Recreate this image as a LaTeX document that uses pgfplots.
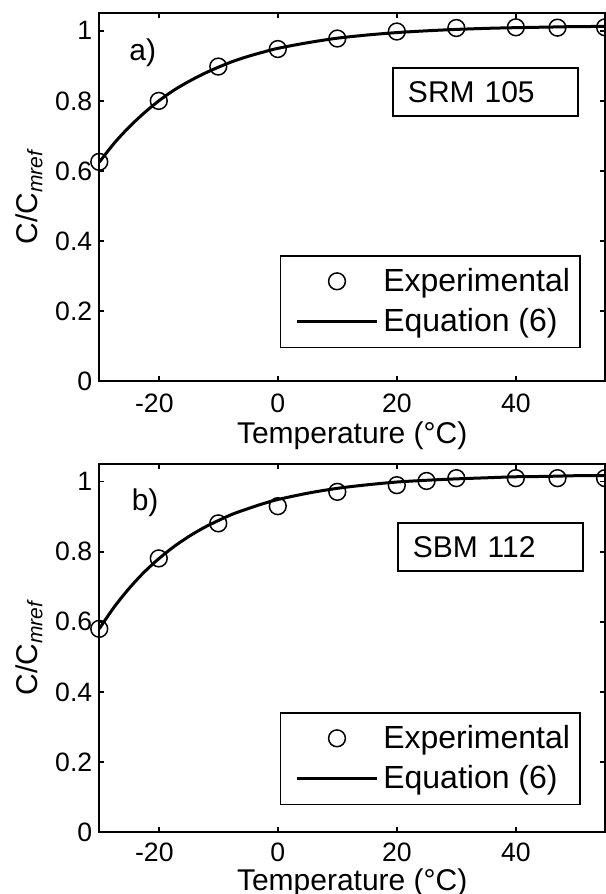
\documentclass[border=0pt]{standalone}
\usepackage{fontspec}
\setmainfont{Liberation Sans}
\usepackage{pgfplots}
\pgfplotsset{compat=1.18}

\pgfplotsset{
  panel/.style={
    scale only axis,
    width=253pt, height=184pt,
    xmin=-30, xmax=55, ymin=0, ymax=1.05,
    xtick={-20,0,20,40},
    xticklabels={\llap{-}20,0,20,40},
    ytick={0,0.2,0.4,0.6,0.8,1},
    /pgf/number format/assume math mode=true,
    tick align=inside,
    major tick length=2.6pt,
    axis line style={line width=0.8pt},
    every tick/.style={black,line width=0.8pt},
    font=\fontsize{15}{18}\selectfont,
    ticklabel style={font=\fontsize{13.3}{15}\selectfont},
    xticklabel style={inner ysep=0pt,yshift=-6.4pt},
    ylabel={C/C\textsubscript{\itshape mref}},
    ylabel style={at={(axis description cs:-0.139,0.5)},anchor=center},
    xlabel={Temperature (°C)},
    clip=false,
    legend cell align=left,
    legend image code/.code={\path (-0.18cm,0cm); \draw[mark repeat=2,mark phase=2,##1] plot coordinates {(0cm,0cm) (0.7cm,0cm) (1.4cm,0cm)};},
    legend style={draw=black,line width=0.8pt,inner xsep=2.5pt,inner ysep=3.2pt,
      nodes={inner xsep=2.5pt,inner ysep=3pt},row sep=1.2pt,
      font=\fontsize{16}{18}\selectfont, anchor=south east},
  },
  expt/.style={only marks,mark=o,mark size=4.2pt,mark options={line width=0.75pt,fill=none},black},
  eqn/.style={no marks,line width=1.5pt,black,smooth},
}

\begin{document}
\begin{tikzpicture}
% panel a
\begin{axis}[panel, at={(0,0)}, anchor=south west,
  xlabel style={at={(axis description cs:0.5,-0.147)},anchor=center,inner sep=0pt},
  legend style={at={(axis description cs:0.952,0.0897)}}]
\addplot[expt] coordinates {(-30,0.626) (-20,0.800) (-10,0.898) (0,0.948) (10,0.978) (20,0.998) (30,1.008) (40,1.010) (47,1.009) (55,1.010)};
\addlegendentry{Experimental}
\addplot[eqn] coordinates {(-30,0.625) (-27.5,0.679) (-25,0.725) (-22.5,0.765) (-20,0.800) (-17.5,0.830) (-15,0.855) (-12.5,0.877) (-10,0.896) (-7.5,0.913) (-5,0.927) (-2.5,0.939) (0,0.950) (5,0.966) (10,0.979) (15,0.988) (20,0.995) (25,1.000) (30,1.004) (35,1.007) (40,1.009) (45,1.0105) (50,1.012) (55,1.0125)};
\addlegendentry{Equation (6)}
\node[draw,line width=0.8pt,minimum width=92.5pt,minimum height=24pt,text width=77.5pt,inner xsep=7.5pt,align=left] at (axis cs:34.9,0.826) {SRM 105};
\node at (axis cs:-22.7,0.937) {a)};
\end{axis}
% panel b
\begin{axis}[panel, at={(0,-225.5pt)}, anchor=south west,
  xticklabel style={yshift=1pt},
  xlabel style={at={(axis description cs:0.5,-0.138)},anchor=center,inner sep=0pt},
  legend style={at={(axis description cs:0.952,0.073)}}]
\addplot[expt] coordinates {(-30,0.580) (-20,0.781) (-10,0.881) (0,0.930) (10,0.971) (20,0.990) (25,1.002) (30,1.010) (40,1.010) (47,1.010) (55,1.010)};
\addlegendentry{Experimental}
\addplot[eqn] coordinates {(-30,0.580) (-27.5,0.642) (-25,0.695) (-22.5,0.741) (-20,0.780) (-17.5,0.814) (-15,0.843) (-12.5,0.868) (-10,0.889) (-7.5,0.908) (-5,0.923) (-2.5,0.937) (0,0.949) (5,0.967) (10,0.981) (15,0.991) (20,0.999) (25,1.004) (30,1.008) (35,1.011) (40,1.014) (45,1.015) (50,1.017) (55,1.0175)};
\addlegendentry{Equation (6)}
\node[draw,line width=0.8pt,minimum width=92.5pt,minimum height=24pt,text width=77.5pt,inner xsep=7.5pt,align=left] at (axis cs:35.7,0.813) {SBM 112};
\node at (axis cs:-22.3,0.94) {b)};
\end{axis}
\pgfresetboundingbox
\path[use as bounding box] (-49.65pt,-256.5pt) rectangle (253.2pt,190.65pt);
\end{tikzpicture}
\end{document}
